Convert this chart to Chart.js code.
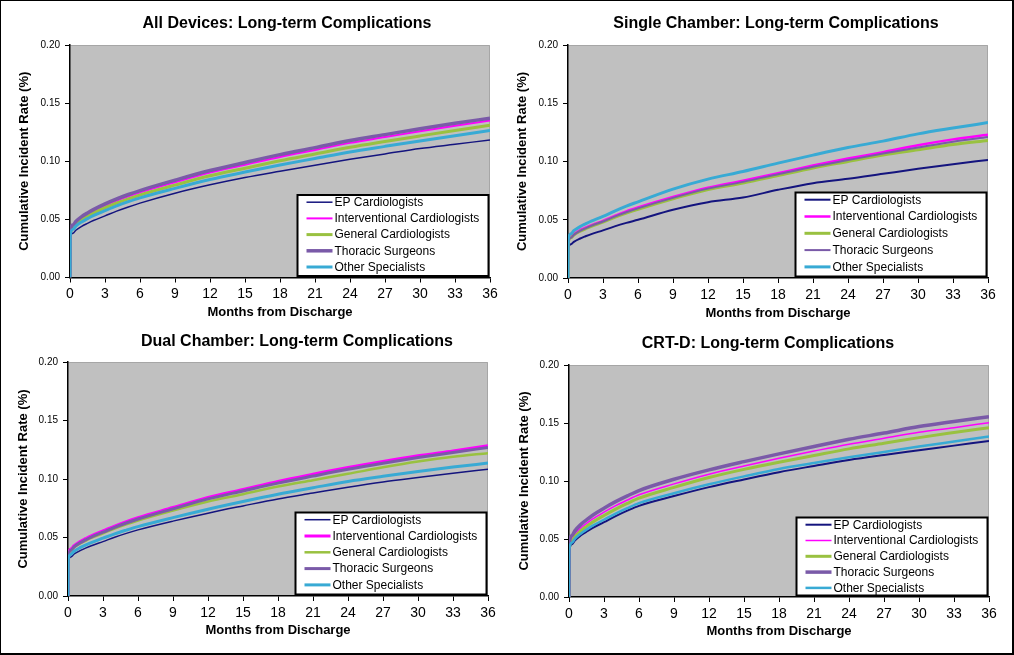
<!DOCTYPE html>
<html><head><meta charset="utf-8">
<script src="https://cdn.jsdelivr.net/npm/chart.js@4.4.1/dist/chart.umd.min.js"></script>
<style>
html,body{margin:0;padding:0;background:#fff;}
#wrap{position:relative;width:1014px;height:655px;overflow:hidden;background:#fff;}
canvas{position:absolute;}
#frame{position:absolute;left:0;top:0;width:1014px;height:655px;box-sizing:border-box;border-style:solid;border-color:#000;border-width:1px 2px 2px 1px;pointer-events:none;}
</style></head><body>
<div id="wrap">
<canvas id="c1" width="507" height="327" style="left:0;top:0"></canvas>
<canvas id="c2" width="507" height="327" style="left:507px;top:0"></canvas>
<canvas id="c3" width="507" height="328" style="left:0;top:327px"></canvas>
<canvas id="c4" width="507" height="328" style="left:507px;top:327px"></canvas>
<div id="frame"></div>
</div>
<script>
// ---- data ----
const months = [0, 0.02, 0.25, 0.5, 1, 1.5, 2, 3, 4, 5, 6, 9, 12, 15, 18, 21, 24, 27, 30, 33, 36];
const seriesNames = ['EP Cardiologists', 'Interventional Cardiologists', 'General Cardiologists', 'Thoracic Surgeons', 'Other Specialists'];
const panelTitles = ['All Devices: Long-term Complications', 'Single Chamber: Long-term Complications', 'Dual Chamber: Long-term Complications', 'CRT-D: Long-term Complications'];
const xTickValues = [0, 3, 6, 9, 12, 15, 18, 21, 24, 27, 30, 33, 36];
const yTickValues = [0, 0.05, 0.10, 0.15, 0.20];
const xAxisTitle = 'Months from Discharge';
const yAxisTitle = 'Cumulative Incident Rate (%)';

const allEP    = [0, 0.033, 0.038, 0.0406, 0.044, 0.0466, 0.049, 0.053, 0.0571, 0.0607, 0.064, 0.0725, 0.0797, 0.086, 0.0914, 0.0966, 0.1017, 0.1063, 0.1109, 0.1146, 0.1183];
const allIC    = [0, 0.038, 0.044, 0.0471, 0.0512, 0.0543, 0.0572, 0.062, 0.0662, 0.0699, 0.0733, 0.082, 0.0903, 0.097, 0.1037, 0.1097, 0.1158, 0.1208, 0.1258, 0.1305, 0.135];
const allGC    = [0, 0.037, 0.0428, 0.0457, 0.0497, 0.0526, 0.0554, 0.060, 0.0641, 0.0677, 0.071, 0.0795, 0.0875, 0.094, 0.1004, 0.1062, 0.112, 0.117, 0.1218, 0.1265, 0.131];
const allTS    = [0, 0.039, 0.0451, 0.0482, 0.0524, 0.0555, 0.0584, 0.0633, 0.0676, 0.0714, 0.0748, 0.0837, 0.092, 0.0989, 0.1057, 0.1117, 0.1178, 0.1229, 0.128, 0.1327, 0.137];
const allOS    = [0, 0.036, 0.0414, 0.0442, 0.0478, 0.0506, 0.0532, 0.0575, 0.0616, 0.0652, 0.0685, 0.0767, 0.0843, 0.0907, 0.0968, 0.1024, 0.108, 0.1128, 0.1175, 0.122, 0.1264];

const singleEP = [0, 0.025, 0.029, 0.031, 0.0337, 0.0358, 0.0377, 0.0409, 0.0443, 0.0473, 0.050, 0.0586, 0.0651, 0.0691, 0.0757, 0.0814, 0.0851, 0.0894, 0.0937, 0.0977, 0.1014];
const singleIC = [0, 0.031, 0.0355, 0.0378, 0.0409, 0.0432, 0.0454, 0.049, 0.0533, 0.0572, 0.0605, 0.0695, 0.0775, 0.0835, 0.090, 0.0965, 0.1025, 0.108, 0.114, 0.119, 0.1229];
const singleGC = [0, 0.030, 0.0345, 0.0368, 0.0399, 0.0422, 0.0444, 0.048, 0.0521, 0.0557, 0.059, 0.068, 0.076, 0.0815, 0.088, 0.0945, 0.100, 0.1055, 0.110, 0.1145, 0.118];
const singleTS = [0, 0.030, 0.0346, 0.037, 0.0402, 0.0426, 0.0448, 0.0485, 0.0527, 0.0564, 0.0598, 0.0688, 0.0767, 0.0825, 0.089, 0.0955, 0.1012, 0.1068, 0.112, 0.117, 0.121];
const singleOS = [0, 0.033, 0.038, 0.0406, 0.0439, 0.0465, 0.0489, 0.0529, 0.0575, 0.0617, 0.0654, 0.0763, 0.0849, 0.0914, 0.0986, 0.1055, 0.112, 0.1175, 0.1237, 0.1287, 0.1334];

const dualEP   = [0, 0.029, 0.0334, 0.0357, 0.0386, 0.0409, 0.043, 0.0465, 0.0502, 0.0535, 0.0565, 0.064, 0.0708, 0.077, 0.083, 0.088, 0.093, 0.0975, 0.1013, 0.105, 0.1084];
const dualIC   = [0, 0.035, 0.0402, 0.0428, 0.0463, 0.049, 0.0515, 0.0556, 0.0598, 0.0636, 0.067, 0.0756, 0.0842, 0.091, 0.0979, 0.104, 0.1098, 0.115, 0.1198, 0.124, 0.1284];
const dualGC   = [0, 0.0337, 0.0387, 0.0413, 0.0446, 0.0472, 0.0496, 0.0536, 0.0576, 0.0612, 0.0645, 0.073, 0.0807, 0.087, 0.0936, 0.099, 0.1044, 0.110, 0.115, 0.119, 0.1221];
const dualTS   = [0, 0.034, 0.0391, 0.0418, 0.0453, 0.0479, 0.0504, 0.0545, 0.0587, 0.0624, 0.0658, 0.0745, 0.083, 0.0898, 0.0965, 0.1025, 0.1083, 0.1135, 0.1183, 0.1226, 0.127];
const dualOS   = [0, 0.031, 0.0356, 0.038, 0.0411, 0.0435, 0.0457, 0.0494, 0.0531, 0.0563, 0.0593, 0.067, 0.0742, 0.0808, 0.087, 0.0925, 0.0979, 0.1023, 0.1064, 0.1102, 0.1136];

const crtdEP   = [0, 0.039, 0.0454, 0.0487, 0.053, 0.0563, 0.0594, 0.0645, 0.0697, 0.0744, 0.0786, 0.087, 0.0947, 0.1013, 0.1076, 0.113, 0.1182, 0.1225, 0.1265, 0.1305, 0.1345];
const crtdIC   = [0, 0.043, 0.0505, 0.0544, 0.0596, 0.0635, 0.0671, 0.0731, 0.0787, 0.0836, 0.0881, 0.0975, 0.1059, 0.113, 0.1196, 0.1258, 0.1317, 0.1368, 0.142, 0.146, 0.1503];
const crtdGC   = [0, 0.041, 0.0483, 0.0521, 0.0571, 0.0609, 0.0644, 0.0703, 0.0758, 0.0807, 0.0852, 0.0945, 0.103, 0.110, 0.1162, 0.122, 0.1277, 0.1325, 0.1374, 0.1418, 0.146];
const crtdTS   = [0, 0.045, 0.0529, 0.057, 0.0624, 0.0665, 0.0703, 0.0766, 0.0822, 0.0872, 0.0918, 0.1015, 0.1096, 0.1167, 0.1234, 0.1298, 0.136, 0.1413, 0.1469, 0.1513, 0.1555];
const crtdOS   = [0, 0.040, 0.0467, 0.0501, 0.0546, 0.0581, 0.0613, 0.0666, 0.0719, 0.0766, 0.0809, 0.0895, 0.0972, 0.104, 0.1104, 0.1155, 0.1205, 0.125, 0.1297, 0.134, 0.1383];

// ---- styles ----
const FONT = "'Liberation Sans', Arial, Helvetica, sans-serif";
Chart.defaults.font.family = FONT;
Chart.defaults.color = '#000';
const colors = ['#14147e', '#ff00ff', '#99c140', '#7a5aa8', '#38aad4'];

const panels = [
  { id: 'c1', title: panelTitles[0], series: [allEP, allIC, allGC, allTS, allOS], widths: [1.5, 2, 3, 3.5, 3],
    W: 507, H: 327, L: 70, R: 490, T: 45, B: 277.5, titleX: 287, titleY: 24, yTitleX: 24, xTitleY: 312, legH: 81, legSp: 16.2 },
  { id: 'c2', title: panelTitles[1], series: [singleEP, singleIC, singleGC, singleTS, singleOS], widths: [2, 2.5, 3, 2, 3],
    W: 507, H: 327, L: 61, R: 481, T: 45, B: 278, titleX: 269, titleY: 24, yTitleX: 15, xTitleY: 313, legH: 84, legSp: 16.8 },
  { id: 'c3', title: panelTitles[2], series: [dualEP, dualIC, dualGC, dualTS, dualOS], widths: [1.5, 3, 2.5, 3, 3],
    W: 507, H: 328, L: 68, R: 488, T: 35, B: 269, titleX: 297, titleY: 14.7, yTitleX: 23, xTitleY: 303, legH: 82, legSp: 16.3 },
  { id: 'c4', title: panelTitles[3], series: [crtdEP, crtdIC, crtdGC, crtdTS, crtdOS], widths: [2, 1.5, 3, 3.5, 2.5],
    W: 507, H: 328, L: 62, R: 482, T: 38, B: 270, titleX: 261, titleY: 16.3, yTitleX: 17, xTitleY: 304, legH: 78, legSp: 15.8 }
];

const plotBg = {
  id: 'plotBg',
  beforeDraw(chart) {
    const a = chart.chartArea, ctx = chart.ctx;
    ctx.save();
    ctx.fillStyle = '#c0c0c0';
    ctx.fillRect(a.left, a.top, a.right - a.left, a.bottom - a.top);
    ctx.strokeStyle = '#a6a6a6';
    ctx.lineWidth = 1;
    ctx.beginPath();
    ctx.moveTo(a.left, a.top + 0.5); ctx.lineTo(a.right - 0.5, a.top + 0.5); ctx.lineTo(a.right - 0.5, a.bottom);
    ctx.stroke();
    ctx.restore();
  }
};

const shiftTitle = {
  id: 'shiftTitle',
  afterLayout(chart, args, opts) {
    const t = chart.titleBlock;
    if (!t) return;
    const dx = opts.x - (t.left + t.right) / 2;
    t.left += dx; t.right += dx;
  }
};

const boxLegend = {
  id: 'boxLegend',
  afterDraw(chart, args, opts) {
    const a = chart.chartArea, ctx = chart.ctx;
    const w = 191, h = opts.h;
    const x0 = a.right - 1.5 - w, y0 = a.bottom - 1.5 - h;
    ctx.save();
    ctx.fillStyle = '#fff';
    ctx.fillRect(x0, y0, w, h);
    ctx.strokeStyle = '#000';
    ctx.lineWidth = 2;
    ctx.strokeRect(x0, y0, w, h);
    ctx.font = '12px ' + FONT;
    ctx.textBaseline = 'middle';
    ctx.textAlign = 'left';
    chart.data.datasets.forEach((ds, i) => {
      const y = y0 + 7.2 + i * opts.sp;
      ctx.strokeStyle = ds.borderColor;
      ctx.lineWidth = ds.borderWidth;
      ctx.beginPath();
      ctx.moveTo(x0 + 9, y); ctx.lineTo(x0 + 35, y);
      ctx.stroke();
      ctx.fillStyle = '#000';
      ctx.fillText(ds.label, x0 + 37, y + 0.5);
    });
    ctx.restore();
  }
};

panels.forEach(p => {
  const lh = 16 * 1.2, alh = 13 * 1.2;
  const datasets = p.series.map((vals, i) => ({
    label: seriesNames[i],
    data: months.map((m, k) => ({ x: m, y: vals[k] })),
    borderColor: colors[i],
    backgroundColor: colors[i],
    borderWidth: p.widths[i],
    pointRadius: 0,
    fill: false,
    cubicInterpolationMode: 'monotone',
    borderJoinStyle: 'round',
    order: 5 - i
  }));
  new Chart(document.getElementById(p.id), {
    type: 'line',
    data: { datasets },
    plugins: [plotBg, shiftTitle, boxLegend],
    options: {
      responsive: false,
      animation: false,
      events: [],
      layout: { padding: { left: 0, right: p.W - p.R, top: 0, bottom: 0 } },
      plugins: {
        legend: { display: false },
        tooltip: { enabled: false },
        title: {
          display: true, text: p.title, color: '#000',
          font: { size: 16, weight: 'bold', family: FONT, lineHeight: 1.2 },
          padding: { top: p.titleY - lh / 2, bottom: p.T - p.titleY - lh / 2 }
        },
        shiftTitle: { x: p.titleX },
        boxLegend: { h: p.legH, sp: p.legSp }
      },
      scales: {
        x: {
          type: 'linear', min: 0, max: 36,
          afterBuildTicks: s => { s.ticks = xTickValues.map(v => ({ value: v })); },
          afterFit: s => { s.height = p.H - p.B; },
          ticks: { color: '#000', font: { size: 14, family: FONT }, padding: 3.5, maxRotation: 0, autoSkip: false },
          grid: { drawOnChartArea: false, drawTicks: true, tickLength: 5, color: '#000', tickWidth: 1 },
          border: { display: true, color: '#000', width: 1.5 },
          title: { display: true, text: xAxisTitle, color: '#000', font: { size: 13, weight: 'bold', family: FONT, lineHeight: 1.2 },
                   padding: { top: 0, bottom: p.H - p.xTitleY - alh / 2 } }
        },
        y: {
          type: 'linear', min: 0, max: 0.2,
          afterBuildTicks: s => { s.ticks = yTickValues.map(v => ({ value: v })); },
          afterFit: s => { s.width = p.L; },
          ticks: { color: '#000', font: { size: 10, family: FONT }, padding: 5, callback: v => v.toFixed(2) },
          grid: { drawOnChartArea: false, drawTicks: true, tickLength: 5, color: '#000', tickWidth: 1 },
          border: { display: true, color: '#000', width: 1.5 },
          title: { display: true, text: yAxisTitle, color: '#000', font: { size: 13, weight: 'bold', family: FONT, lineHeight: 1.2 },
                   padding: { top: p.yTitleX - alh / 2, bottom: 0 } }
        }
      }
    }
  });
});
</script>
</body></html>
